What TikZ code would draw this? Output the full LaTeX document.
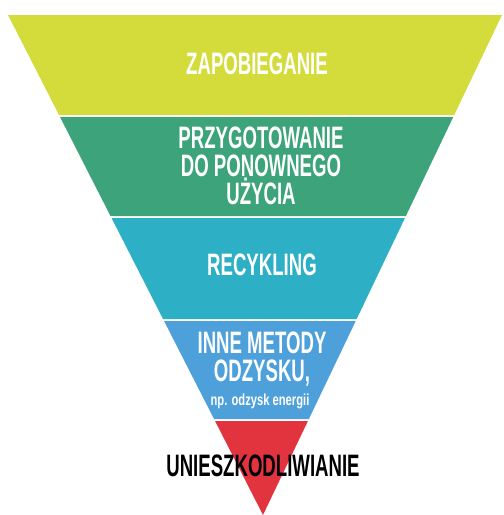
\documentclass[tikz,border=0pt]{standalone}
\usepackage{fontspec}
\usetikzlibrary{calc}
\newfontfamily\bandfont[FakeStretch=0.6]{Liberation Sans}
\newfontfamily\smallbandfont[FakeStretch=0.7]{Liberation Sans}
\definecolor{zyellow}{RGB}{212,220,60}
\definecolor{zgreen}{RGB}{60,163,122}
\definecolor{zcyan}{RGB}{45,175,197}
\definecolor{zblue}{RGB}{78,160,218}
\definecolor{zred}{RGB}{226,52,62}

\begin{document}
\begin{tikzpicture}[x=0.5pt,y=-0.5pt,
  bandtext/.style={text=white, align=center, inner sep=0pt,
    font=\bandfont\bfseries\fontsize{15.5}{14}\selectfont}]
\useasboundingbox (0,0) rectangle (504,515);
\coordinate (tl) at (8,15);
\coordinate (tr) at (502,15);
\coordinate (ap) at (263,515);

\foreach \a/\b/\col in {0/0.2/zyellow, 0.204/0.402/zgreen, 0.406/0.608/zcyan, 0.612/0.808/zblue, 0.812/1/zred}
  \fill[\col] ($(tl)!\a!(ap)$) -- ($(tr)!\a!(ap)$) -- ($(tr)!\b!(ap)$) -- ($(tl)!\b!(ap)$) -- cycle;

\node[bandtext] (zap) at (257,64) {ZAPOBIEGANIE};
\node[bandtext] (przy) at (261,166) {PRZYGOTOWANIE\\DO PONOWNEGO\\UŻYCIA};
\node[bandtext] (recy) at (262,265) {RECYKLING};
\node[bandtext] (inne) at (262,359) {INNE METODY\\ODZYSKU,};
\node[bandtext, font=\smallbandfont\bfseries\fontsize{8}{9}\selectfont] (np) at (260,401) {np. odzysk energii};
\node[bandtext, text=black] (unie) at (263,466) {UNIESZKODLIWIANIE};
\end{tikzpicture}
\end{document}
